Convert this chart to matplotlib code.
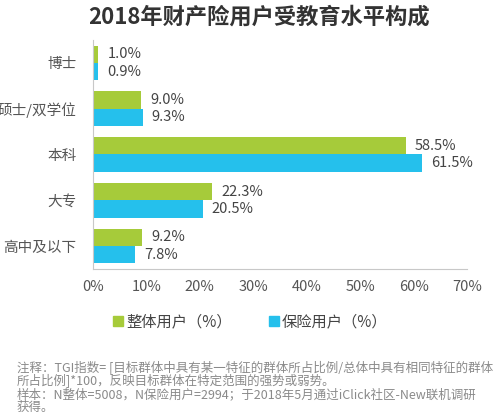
import matplotlib
matplotlib.use('Agg')
import matplotlib.pyplot as plt
from matplotlib.lines import Line2D
import numpy as np

plt.rcParams['font.family'] = ['Noto Sans CJK SC', 'DejaVu Sans']

# data
levels = ['博士', '硕士/双学位', '本科', '大专', '高中及以下']
overall = [1.0, 9.0, 58.5, 22.3, 9.2]      # 整体用户（%）
insured = [0.9, 9.3, 61.5, 20.5, 7.8]      # 保险用户（%）
xticks = [0, 10, 20, 30, 40, 50, 60, 70]

green = '#a6cb3a'
blue = '#25c0ec'
txt = '#444444'

fig = plt.figure(figsize=(5, 4.17), dpi=100)
ax = fig.add_axes([0.186, 0.355, 0.748, 0.549])

y = np.arange(len(levels))
h = 0.38
ax.barh(y - h / 2, overall, height=h, color=green)
ax.barh(y + h / 2, insured, height=h, color=blue)

for i in range(len(levels)):
    ax.text(overall[i] + 1.7, y[i] - h / 2, '%.1f%%' % overall[i],
            va='center', ha='left', fontsize=10.5, color=txt)
    ax.text(insured[i] + 1.7, y[i] + h / 2, '%.1f%%' % insured[i],
            va='center', ha='left', fontsize=10.5, color=txt)

ax.set_ylim(len(levels) - 0.5, -0.5)
ax.set_xlim(0, 70)
ax.set_yticks(y)
ax.set_yticklabels(levels, fontsize=10.5, color='#555555')
ax.set_xticks(xticks)
ax.set_xticklabels(['%d%%' % t for t in xticks], fontsize=10.5, color='#555555')
ax.tick_params(axis='y', length=0, pad=12)
ax.tick_params(axis='x', length=0, pad=8)
for s in ['top', 'right']:
    ax.spines[s].set_visible(False)
for s in ['left', 'bottom']:
    ax.spines[s].set_color('#c8c8c8')

fig.text(0.518, 0.959, '2018年财产险用户受教育水平构成', ha='center', va='center',
         fontsize=16, fontweight='bold', color='#333333')

handles = [Line2D([], [], marker='s', linestyle='none', markersize=7, color=green),
           Line2D([], [], marker='s', linestyle='none', markersize=7, color=blue)]
fig.legend(handles, ['整体用户（%）', '保险用户（%）'], loc='center',
           bbox_to_anchor=(0.5, 0.228), ncol=2, frameon=False, fontsize=11,
           handlelength=0.7, handletextpad=0.2, columnspacing=2.4,
           labelcolor='#444444')

notes = ['注释：TGI指数= [目标群体中具有某一特征的群体所占比例/总体中具有相同特征的群体',
         '所占比例]*100，反映目标群体在特定范围的强势或弱势。',
         '样本：N整体=5008，N保险用户=2994；于2018年5月通过iClick社区-New联机调研',
         '获得。']
for k, line in enumerate(notes):
    fig.text(0.034, 0.118 - k * 0.032, line, ha='left', va='center',
             fontsize=9, color='#8a8a8a')

fig.savefig('out.png', dpi=100)
